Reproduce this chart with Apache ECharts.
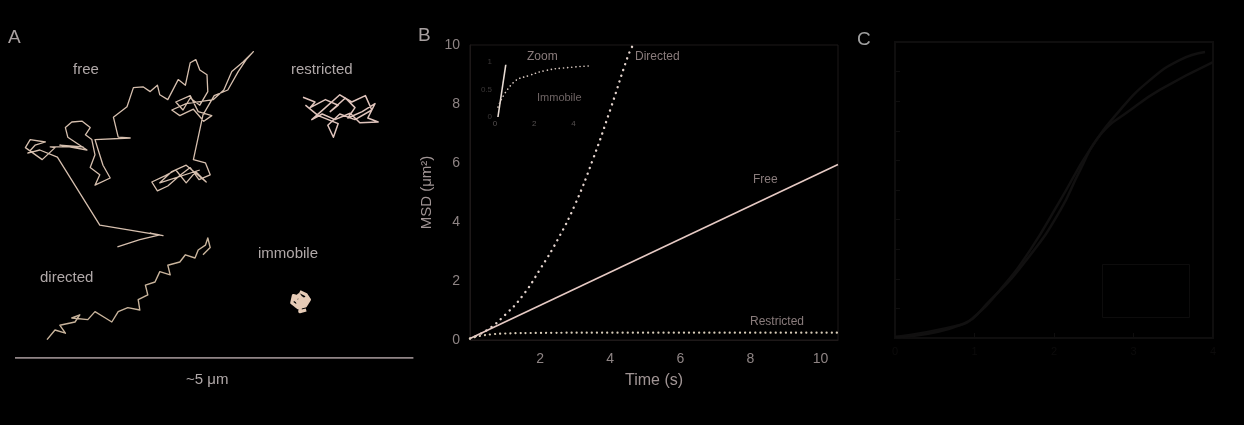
<!DOCTYPE html>
<html>
<head>
<meta charset="utf-8">
<script src="https://cdn.jsdelivr.net/npm/echarts@6/dist/echarts.min.js"></script>
<style>
  html, body { margin: 0; padding: 0; background: #000; }
  #main { width: 1244px; height: 425px; }
</style>
</head>
<body>
<div id="main"></div>
<script>
// Panel A: single-particle trajectories, positions in µm
const freeTrack = [
  [1.28,1.39],[1.56,1.48],[1.81,1.54],[1.69,1.56],[1.85,1.53],[1.06,1.66],[0.53,2.51],[0.31,2.60],
  [0.16,2.56],[0.25,2.66],[0.38,2.70],[0.19,2.73],[0.13,2.63],[0.34,2.48],[0.50,2.63],[0.44,2.64],
  [0.85,2.64],[0.56,2.66],[0.90,2.60],[0.66,2.76],[0.63,2.88],[0.71,2.95],[0.84,2.96],[0.94,2.88],
  [0.88,2.79],[0.96,2.73],[1.00,2.54],[0.94,2.38],[1.06,2.29],[1.00,2.16],[1.19,2.25],[1.10,2.41],
  [1.04,2.60],[1.00,2.73],[1.44,2.75],[1.29,2.76],[1.23,3.01],[1.40,3.14],[1.48,3.38],[1.60,3.39],
  [1.69,3.33],[1.78,3.41],[1.81,3.29],[1.91,3.23],[2.04,3.48],[2.13,3.41],[2.19,3.69],[2.26,3.73],
  [2.31,3.60],[2.40,3.54],[2.41,3.33],[2.31,3.16],[2.19,3.25],[2.10,3.10],[2.01,3.20],[2.19,3.28],
  [2.29,3.08],[2.46,3.03],[2.36,2.96],[2.23,3.11],[2.06,3.03],[1.96,3.10],[2.14,3.18],[2.48,3.23],
  [2.61,3.35],[2.71,3.58],[2.85,3.70],[2.98,3.83],[2.89,3.73],[2.79,3.58],[2.66,3.35],[2.49,3.28],
  [2.35,3.04],[2.23,2.48],[2.38,2.44],[2.44,2.29],[2.30,2.23],[2.19,2.38],[2.06,2.28],[1.91,2.15],
  [1.78,2.09],[1.71,2.20],[1.88,2.28],[2.01,2.35],[2.14,2.19],[2.26,2.33],[2.39,2.20],[2.14,2.41],
  [1.96,2.33],[1.81,2.19],[2.31,2.35]
];
const restrictedTrack = [
  [3.60,3.26],[3.75,3.20],[3.69,3.13],[3.88,3.23],[4.04,3.16],[3.94,3.08],[4.13,3.25],[4.25,3.13],
  [4.16,3.00],[4.34,3.08],[4.50,3.18],[4.41,3.00],[4.54,2.95],[4.31,2.94],[4.19,3.06],[4.00,2.98],
  [3.84,3.05],[3.71,2.98],[3.88,3.13],[4.06,3.29],[4.21,3.20],[4.38,3.28],[4.46,3.10],[4.25,2.98],
  [4.06,3.05],[3.91,2.91],[3.98,2.76],[4.04,2.93],[3.79,3.03],[3.63,3.16]
];
const directedTrack = [
  [0.40,0.23],[0.50,0.35],[0.63,0.31],[0.56,0.41],[0.75,0.45],[0.81,0.54],[0.71,0.50],[0.91,0.48],
  [1.00,0.58],[1.13,0.50],[1.21,0.45],[1.29,0.58],[1.41,0.63],[1.56,0.60],[1.54,0.73],[1.66,0.79],
  [1.63,0.91],[1.75,0.95],[1.81,1.08],[1.94,1.04],[1.91,1.16],[2.06,1.20],[2.13,1.29],[2.25,1.25],
  [2.29,1.35],[2.38,1.41],[2.41,1.50],[2.44,1.38],[2.35,1.29]
];
const immobileTrack = [
  [3.56,0.83],[3.64,0.79],[3.68,0.73],[3.63,0.65],[3.54,0.63],[3.46,0.69],[3.48,0.78],[3.59,0.75],
  [3.53,0.70],[3.61,0.70],[3.55,0.79],[3.50,0.73],[3.60,0.66],[3.65,0.76],[3.51,0.65],[3.58,0.71],
  [3.56,0.58],[3.64,0.60]
];
const scaleBar = [[0, 0], [4.98, 0]];

// Panel B: MSD vs time lag
const directedMSD = [[0,0.05],[0.5,0.35],[1,0.85],[1.5,1.5],[2,2.4],[2.5,3.4],[3,4.6],[3.5,6.1],[4,7.8],[4.5,9.6],[4.65,10]];
const freeMSD = [[0,0.05],[10.5,5.95]];
const restrictedMSD = [[0,0.05],[0.3,0.14],[0.6,0.19],[1,0.22],[2,0.24],[4,0.25],[10.5,0.25]];

// Panel B inset (zoom)
const insetSteep = [[0.15,0],[0.55,0.95]];
const insetImmobile = [[0.15,0.18],[0.92,0.62],[1.79,0.76],[2.65,0.85],[3.47,0.89],[4.85,0.93]];

// Panel C: two cumulative curves
const curveC1 = [[0,0.03],[0.82,0.44],[0.98,0.68],[1.32,1.62],[1.7,2.97],[2.08,4.66],[2.45,6.35],[2.83,7.7],[3.21,8.72],[3.58,9.39],[3.9,9.66]];
const curveC2 = [[0,0.03],[0.82,0.44],[1.2,1.28],[1.7,2.8],[2.08,4.32],[2.33,5.68],[2.58,6.86],[2.96,7.7],[3.33,8.38],[4,9.32]];

const FONT = 'Liberation Sans';
const chart = echarts.init(document.getElementById('main'));

function track(data, color, width) {
  return {
    type: 'line', xAxisIndex: 0, yAxisIndex: 0, data: data,
    showSymbol: false, silent: true, animation: false,
    lineStyle: { color: color, width: width, join: 'round' }
  };
}

function text(x, y, str, size, color, extra) {
  return Object.assign({
    type: 'text', left: x, top: y,
    style: { text: str, fill: color, font: size + 'px "' + FONT + '"' }
  }, extra || {});
}

const hiddenAxis = { show: false };

const option = {
  backgroundColor: '#000',
  animation: false,
  grid: [
    { left: 15, top: 38, width: 400, height: 320 },
    { left: 470, top: 45, width: 368, height: 295, show: true, borderColor: '#1d1818', borderWidth: 1 },
    { left: 495, top: 62, width: 98, height: 55 },
    { left: 895, top: 42, width: 318, height: 296, show: true, borderColor: '#0f0e0e', borderWidth: 2 }
  ],
  xAxis: [
    { gridIndex: 0, type: 'value', min: 0, max: 5, ...hiddenAxis },
    {
      gridIndex: 1, type: 'value', min: 0, max: 10.5, interval: 2,
      name: 'Time (s)', nameLocation: 'middle', nameGap: 33,
      nameTextStyle: { color: '#a09494', fontSize: 16, fontFamily: FONT },
      axisLine: { lineStyle: { color: '#1d1818' } },
      axisTick: { show: false },
      splitLine: { show: false },
      axisLabel: {
        color: '#8e8484', fontSize: 14, fontFamily: FONT, margin: 12,
        formatter: v => (v > 0 && v % 2 === 0) ? String(v) : ''
      }
    },
    {
      gridIndex: 2, type: 'value', min: 0, max: 5, interval: 2,
      axisLine: { show: false }, axisTick: { show: false }, splitLine: { show: false },
      axisLabel: {
        color: '#555050', fontSize: 8, fontFamily: FONT, margin: 3,
        formatter: v => (v % 2 === 0) ? String(v) : ''
      }
    },
    {
      gridIndex: 3, type: 'value', min: 0, max: 4, interval: 1,
      axisLine: { show: false },
      axisTick: { inside: true, lineStyle: { color: '#0f0e0e' } },
      splitLine: { show: false },
      axisLabel: { color: '#0c0b0b', fontSize: 11, fontFamily: FONT }
    }
  ],
  yAxis: [
    { gridIndex: 0, type: 'value', min: 0, max: 4, ...hiddenAxis },
    {
      gridIndex: 1, type: 'value', min: 0, max: 10, interval: 2,
      name: 'MSD (μm²)', nameLocation: 'middle', nameGap: 36,
      nameTextStyle: { color: '#a09494', fontSize: 15, fontFamily: FONT },
      axisLine: { show: true, lineStyle: { color: '#1d1818' } },
      axisTick: { show: false },
      splitLine: { show: false },
      axisLabel: { color: '#8e8484', fontSize: 14, fontFamily: FONT, margin: 10 }
    },
    {
      gridIndex: 2, type: 'value', min: 0, max: 1, interval: 0.5,
      axisLine: { show: false }, axisTick: { show: false }, splitLine: { show: false },
      axisLabel: { color: '#3c3838', fontSize: 8, fontFamily: FONT, margin: 3 }
    },
    {
      gridIndex: 3, type: 'value', min: 0, max: 10, interval: 1,
      axisLine: { show: false },
      axisTick: { inside: true, lineStyle: { color: '#0f0e0e' } },
      splitLine: { show: false },
      axisLabel: { show: false }
    }
  ],
  series: [
    track(freeTrack, '#d6bfae', 1.3),
    track(restrictedTrack, '#e0c4bc', 1.5),
    track(directedTrack, '#c9b49c', 1.4),
    track(immobileTrack, '#e6cbb6', 3.2),
    track(scaleBar, '#c2b2b4', 1.3),
    {
      type: 'line', xAxisIndex: 1, yAxisIndex: 1, data: directedMSD, smooth: true,
      showSymbol: false, silent: true,
      lineStyle: { color: '#e2d2cc', width: 2.4, type: [0.1, 6], cap: 'round' }
    },
    {
      type: 'line', xAxisIndex: 1, yAxisIndex: 1, data: freeMSD,
      showSymbol: false, silent: true,
      lineStyle: { color: '#e6cac4', width: 1.6 }
    },
    {
      type: 'line', xAxisIndex: 1, yAxisIndex: 1, data: restrictedMSD, smooth: true,
      showSymbol: false, silent: true,
      lineStyle: { color: '#d8ccb8', width: 2.2, type: [0.1, 5], cap: 'round' }
    },
    {
      type: 'line', xAxisIndex: 2, yAxisIndex: 2, data: insetSteep,
      showSymbol: false, silent: true,
      lineStyle: { color: '#e8dcd4', width: 1.6 }
    },
    {
      type: 'line', xAxisIndex: 2, yAxisIndex: 2, data: insetImmobile, smooth: true,
      showSymbol: false, silent: true,
      lineStyle: { color: '#d8c8c0', width: 1.6, type: [0.1, 4], cap: 'round' }
    },
    {
      type: 'line', xAxisIndex: 3, yAxisIndex: 3, data: curveC1, smooth: true,
      showSymbol: false, silent: true,
      lineStyle: { color: '#111010', width: 2.5 }
    },
    {
      type: 'line', xAxisIndex: 3, yAxisIndex: 3, data: curveC2, smooth: true,
      showSymbol: false, silent: true,
      lineStyle: { color: '#111010', width: 2.5 }
    }
  ],
  graphic: [
    text(8, 28, 'A', 19, '#a8a0a0'),
    text(73, 62, 'free', 15, '#b0a8a8'),
    text(291, 62, 'restricted', 15, '#b0a8a8'),
    text(40, 270, 'directed', 15, '#b0a8a8'),
    text(258, 246, 'immobile', 15, '#b0a8a8'),
    text(186, 372, '~5 μm', 15, '#b0a8a8'),
    text(418, 26, 'B', 19, '#a8a0a0'),
    text(527, 51, 'Zoom', 12, '#8a7c7c'),
    text(537, 92, 'Immobile', 11, '#6e6464'),
    text(635, 51, 'Directed', 12, '#8a7c7c'),
    text(753, 174, 'Free', 12, '#8a7c7c'),
    text(750, 316, 'Restricted', 12, '#8a7c7c'),
    text(857, 30, 'C', 19, '#a0a0a0'),
    {
      type: 'rect', left: 1100, top: 262,
      shape: { width: 87, height: 53 },
      style: { fill: 'none', stroke: '#0d0c0c', lineWidth: 1 }
    }
  ]
};

chart.setOption(option);
</script>
</body>
</html>
